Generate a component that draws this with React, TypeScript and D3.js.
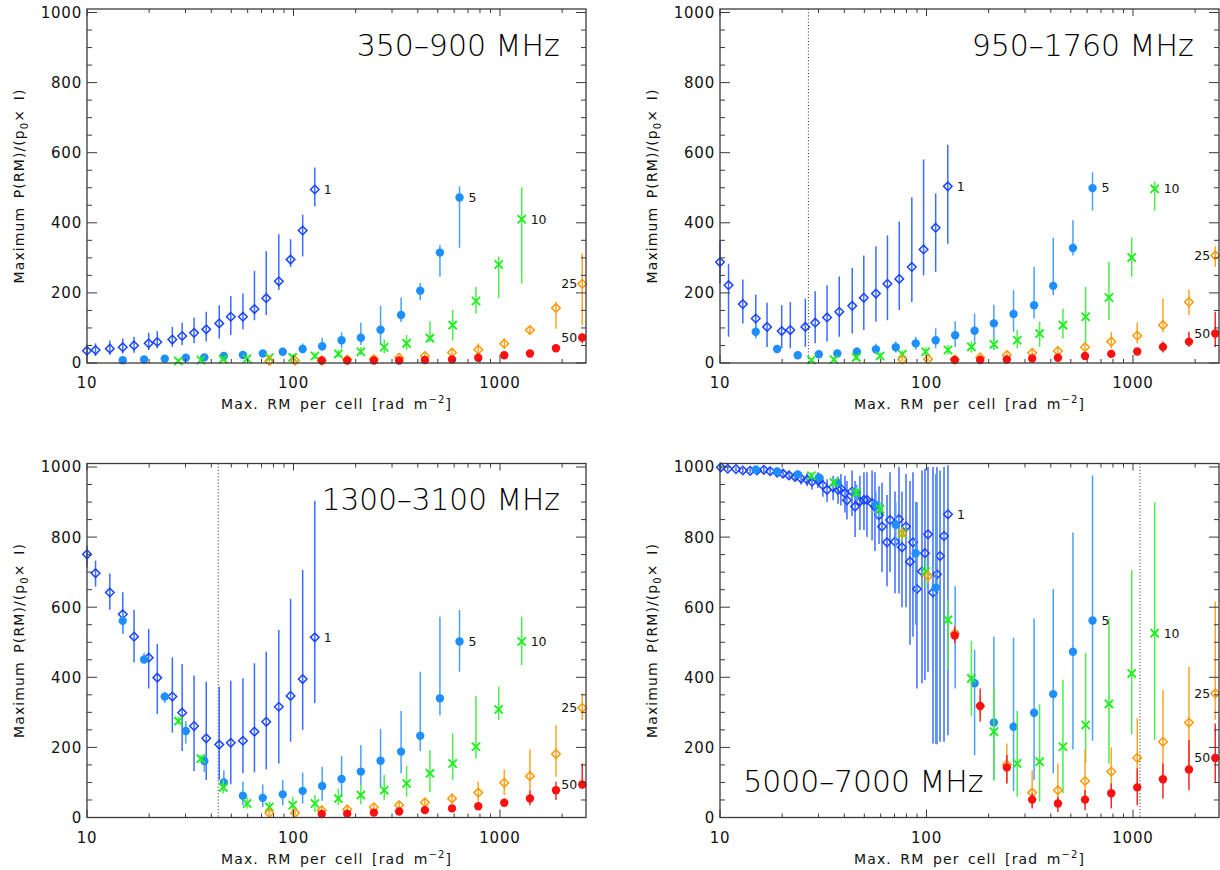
import React from 'react';
import * as d3 from 'd3';

// ---------- x grids (Max. RM per cell, rad m^-2) ----------
const X_S1 = [10, 11, 12.9, 14.9, 16.9, 19.9, 21.9, 25.9, 28.9, 33, 37.8, 43.7, 49.7, 56.9, 64.7, 73.8, 84.9, 96.8, 110.8, 126.8];
const X_S5 = [14.9, 18.9, 23.8, 30.1, 37, 46, 56.9, 71, 88.7, 110.8, 137.7, 171, 212, 264, 332, 411, 512, 637];
const X_S10 = [27.7, 35.6, 45.7, 59.6, 76.4, 99.1, 127, 165, 212, 275, 353, 458, 590, 765, 986, 1274];
const X_S25 = [76.4, 101.7, 137, 182, 245, 325, 433, 586, 785, 1049, 1397, 1867, 2503];
const X_S50 = [137, 182, 245, 325, 433, 586, 785, 1049, 1397, 1867, 2503];
const X_S1_P4 = [10.1, 10.9, 11.95, 12.9, 14.0, 15.1, 16.3, 17.5, 18.9, 20.2, 21.6, 23.1, 24.7, 26.4, 27.9, 29.8, 31.5, 33.0, 35.3, 37.3, 38.5, 40.3, 41.2, 43.6, 45.1, 47.6, 49.8, 51.5, 54.5, 56.3, 58.9, 60.9, 64.4, 66.6, 70.4, 73.6, 76.1, 79.6, 83.2, 86.0, 89.9, 95.1, 98.3, 101.7, 107.5, 112.4, 116.3, 121.6, 127.1];

// ---------- values [value, low, high] ----------
const P1_S1 = [[35,20,52],[37,20,56],[41,23,64],[45,27,70],[50,29,75],[56,37,86],[60,42,91],[67,46,103],[77,51,115],[86,56,130],[96,61,146],[113,70,165],[132,80,191],[132,96,198],[154,122,263],[185,137,319],[233,208,367],[295,274,353],[378,304,423],[495,447,558]];
const P1_S5 = [[8,5,12],[10,6,14],[12,8,16],[15,10,20],[16,10,23],[20,13,28],[23,15,32],[27,18,37],[32,22,44],[40,28,56],[48,35,72],[65,42,87],[72,51,115],[95,51,163],[137,117,187],[206,179,228],[315,246,337],[472,329,504]];
const P1_S10 = [[6,2,10],[8.5,4,13],[11,6,17],[12,6,18],[15,8,22],[16,9,24],[20,12,29],[26,16,37],[32,23,46],[45,27,68],[56,37,80],[71,59,119],[108,64,151],[177,141,217],[281,186,304],[410,227,501]];
const P1_S25 = [[6,3,9],[7,4,10],[7,4,11],[10,6,14],[11,7,16],[15,10,21],[20,13,28],[30,20,40],[38,27,56],[55,42,70],[94,82,107],[157,98,174],[226,108,312]];
const P1_S50 = [[7,4,10],[7,4,10],[7,4,10],[7,4,11],[8.5,5,12],[10,6,14],[15,10,20],[22,16,28],[27,20,34],[42,32,51],[73,56,84]];

const P2_S1 = [[288,226,349],[222,75,283],[168,113,238],[127,75,195],[103,46,172],[91,42,165],[94,42,174],[103,46,184],[115,56,205],[130,61,222],[146,75,247],[163,84,271],[186,94,307],[198,118,333],[226,122,364],[240,151,404],[274,174,473],[324,250,581],[386,260,484],[504,340,623]];
const P2_S5 = [[89,70,108],[40,30,50],[22,15,30],[25,15,35],[27,17,38],[32,20,45],[39,25,55],[45,30,62],[56,38,75],[65,42,99],[79,46,119],[92,56,141],[113,37,166],[140,89,208],[165,127,274],[220,193,357],[328,307,407],[499,435,544]];
const P2_S10 = [[8.5,3,14],[10,4,16],[16,8,24],[20,11,30],[25,14,36],[32,20,45],[37,24,52],[46,30,62],[53,37,75],[65,42,94],[84,46,118],[108,70,155],[132,56,217],[187,122,288],[301,246,357],[497,435,518]];
const P2_S25 = [[10,5,15],[11,6,16],[10,5,15],[16,10,22],[23,16,30],[29,20,38],[34,25,44],[45,35,56],[61,42,89],[78,56,116],[108,88,184],[174,137,210],[307,274,333]];
const P2_S50 = [[8.5,5,12],[8.5,5,12],[10,6,14],[13,9,17],[15,10,20],[20,14,26],[26,19,33],[33,25,42],[46,30,61],[61,46,89],[84,46,146]];

const P3_S1 = [[751,714,776],[697,659,733],[642,593,696],[580,524,643],[516,442,592],[456,368,538],[399,295,495],[345,242,457],[299,190,438],[261,133,405],[226,107,387],[208,107,373],[213,95,390],[219,126,397],[245,129,440],[273,137,473],[316,154,535],[347,216,624],[395,250,706],[514,327,904]];
const P3_S5 = [[561,524,587],[451,440,470],[345,327,359],[247,211,275],[161,130,178],[100,83,135],[62,35,102],[56,30,94],[66,35,107],[76,40,128],[90,48,145],[110,59,175],[131,92,207],[162,88,253],[188,126,304],[233,190,416],[340,292,573],[502,416,592]];
const P3_S10 = [[275,265,288],[168,158,178],[86,69,107],[40,26,59],[30,12,45],[35,11,59],[40,16,64],[54,35,83],[64,38,94],[78,50,121],[97,59,147],[126,73,192],[154,107,240],[202,168,347],[308,278,373],[502,435,573]];
const P3_S25 = [[13,5,20],[13,5,20],[21,12,30],[23,14,32],[29,19,40],[35,24,47],[43,30,56],[54,40,68],[71,45,102],[99,64,137],[118,78,194],[181,116,264],[313,278,354]];
const P3_S50 = [[10,5,15],[11,6,16],[14,8,20],[17,11,23],[21,15,28],[26,19,34],[32,24,41],[42,32,54],[54,35,78],[78,50,102],[94,83,154]];

const P4_S1 = [[999,993,1004],[995,989,1001],[994,988,1000],[990,983,997],[989,982,996],[990,982,998],[992,984,1000],[988,979,997],[984,974,994],[981,970,992],[976,963,989],[972,958,986],[967,950,985],[964,945,982],[958,935,980],[962,940,985],[948,915,975],[935,900,965],[942,905,975],[935,895,972],[938,890,980],[925,870,975],[905,850,960],[930,860,990],[887,800,960],[902,820,975],[906,820,985],[906,800,985],[897,790,990],[887,760,985],[863,780,945],[830,700,955],[785,660,920],[849,700,985],[787,640,930],[851,640,1000],[771,600,930],[830,600,980],[730,493,960],[785,516,985],[652,368,900],[702,383,990],[754,392,995],[808,416,1000],[642,211,1000],[694,209,1000],[746,216,990],[803,216,1000],[865,235,1005]];
const P4_S5 = [[992,985,999],[987,978,996],[979,968,990],[970,958,982],[955,940,968],[925,900,950],[892,850,930],[835,768,900],[754,550,900],[656,210,980],[524,368,660],[383,178,478],[271,107,516],[259,75,513],[299,107,568],[352,126,652],[473,194,813],[562,219,976]];
const P4_S10 = [[975,965,985],[956,945,967],[927,915,940],[880,860,900],[811,790,830],[702,654,740],[564,421,621],[397,289,504],[245,105,370],[154,59,304],[159,45,323],[202,69,392],[264,154,470],[324,154,570],[411,238,706],[526,221,899]];
const P4_S25 = [[811,795,825],[689,670,705],[525,505,545],[318,290,345],[151,97,211],[71,30,135],[78,45,154],[104,59,195],[131,60,200],[170,78,283],[216,97,364],[271,145,430],[354,278,616]];
const P4_S50 = [[519,497,545],[318,273,368],[143,97,178],[51,26,69],[40,16,59],[51,21,78],[69,26,97],[86,35,140],[109,54,154],[137,78,221],[170,102,268]];

const TITLES = ['350\u2013900 MHz', '950\u20131760 MHz', '1300\u20133100 MHz', '5000\u20137000 MHz'];
const DOTTED = [null, 26.8, 43.2, 1081];
const SERIES_LABELS = ['1', '5', '10', '25', '50'];
const Y_TICKS = d3.range(0, 1001, 50);
const X_MAJOR = [10, 100, 1000];

// ---------- layout ----------
const W = 499;
const H = 354;
const ORIGINS = [[87, 9], [720, 9], [87, 463.5], [720, 463.5]];
const TITLE_POS = [[356.7, 56, 203], [971.7, 56, 222], [321.7, 510, 238], [743.3, 791.5, 240]];

const STYLES = [
  { marker: 'diamond', color: '#1a44ff', bar: '#3c6cff' },
  { marker: 'circle', color: '#1e8fff', bar: '#4aa0ff' },
  { marker: 'cross', color: '#1fee1f', bar: '#4bee4b' },
  { marker: 'diamond', color: '#ff9900', bar: '#ffa42a' },
  { marker: 'circle', color: '#ff1010', bar: '#f02828' },
];

const PANELS = [
  { xs: [X_S1, X_S5, X_S10, X_S25, X_S50], ys: [P1_S1, P1_S5, P1_S10, P1_S25, P1_S50] },
  { xs: [X_S1, X_S5, X_S10, X_S25, X_S50], ys: [P2_S1, P2_S5, P2_S10, P2_S25, P2_S50] },
  { xs: [X_S1, X_S5, X_S10, X_S25, X_S50], ys: [P3_S1, P3_S5, P3_S10, P3_S25, P3_S50] },
  { xs: [X_S1_P4, X_S5, X_S10, X_S25, X_S50], ys: [P4_S1, P4_S5, P4_S10, P4_S25, P4_S50] },
];

const xScale = d3.scaleLog().domain([10, 2610]).range([0, W]);
const yScale = d3.scaleLinear().domain([0, 1010]).range([H, 0]);

const xMinor: number[] = [];
[10, 100, 1000].forEach((d) => {
  for (let k = 2; k <= 9; k++) if (k * d <= 2610) xMinor.push(k * d);
});

const FONT = 'DejaVu Sans, Verdana, sans-serif';

function Marker({ type, color, x, y }: { type: string; color: string; x: number; y: number }) {
  if (type === 'diamond') {
    const r = 4.3;
    return <path d={`M${x},${y - r}L${x + r},${y}L${x},${y + r}L${x - r},${y}Z`} fill="none" stroke={color} strokeWidth={1.5} />;
  }
  if (type === 'circle') {
    return <circle cx={x} cy={y} r={4.2} fill={color} />;
  }
  const r = 4.1;
  return (
    <path d={`M${x - r},${y - r}L${x + r},${y + r}M${x - r},${y + r}L${x + r},${y - r}`} stroke={color} strokeWidth={1.9} fill="none" />
  );
}

function Panel({ idx }: { idx: number }) {
  const [ox, oy] = ORIGINS[idx];
  const p = PANELS[idx];
  const frame = '#3a3a3a';
  const dotted = DOTTED[idx];
  return (
    <g transform={`translate(${ox},${oy})`}>
      {dotted !== null && (
        <line x1={xScale(dotted)} x2={xScale(dotted)} y1={0} y2={H} stroke="#222" strokeWidth={1} strokeDasharray="1,2.2" />
      )}
      {p.ys.map((data, si) => {
        const st = STYLES[si];
        const xs = p.xs[si];
        return (
          <g key={si}>
            {data.map((d, i) => (
              <line key={'b' + i} x1={xScale(xs[i])} x2={xScale(xs[i])} y1={yScale(d[1])} y2={yScale(d[2])} stroke={st.bar} strokeWidth={1.5} />
            ))}
            {data.map((d, i) => (
              <Marker key={'m' + i} type={st.marker} color={st.color} x={xScale(xs[i])} y={yScale(d[0])} />
            ))}
          </g>
        );
      })}
      {p.ys.map((data, si) => {
        const xs = p.xs[si];
        const last = data.length - 1;
        const px = xScale(xs[last]);
        const py = yScale(data[last][0]);
        const right = si < 3;
        return (
          <text key={'l' + si} x={right ? px + 9 : px - 5} y={py} dy="0.35em" textAnchor={right ? 'start' : 'end'} fontSize={12.5} fontFamily={FONT} fill="#111">
            {SERIES_LABELS[si]}
          </text>
        );
      })}
      {/* frame */}
      <rect x={0} y={0} width={W} height={H} fill="none" stroke={frame} strokeWidth={1.3} />
      {Y_TICKS.map((t) => {
        const len = t % 200 === 0 ? 10 : 5;
        const y = yScale(t);
        return (
          <g key={'yt' + t}>
            <line x1={0} x2={len} y1={y} y2={y} stroke={frame} strokeWidth={1} />
            <line x1={W} x2={W - len} y1={y} y2={y} stroke={frame} strokeWidth={1} />
          </g>
        );
      })}
      {Y_TICKS.filter((t) => t % 200 === 0).map((t) => (
        <text key={'yl' + t} x={-5} y={yScale(t)} dy="0.36em" textAnchor="end" fontSize={15} fontFamily={FONT} letterSpacing={0.8} fill="#111">
          {t}
        </text>
      ))}
      {X_MAJOR.map((t) => (
        <g key={'xM' + t}>
          <line x1={xScale(t)} x2={xScale(t)} y1={H} y2={H - 8} stroke={frame} strokeWidth={1} />
          <line x1={xScale(t)} x2={xScale(t)} y1={0} y2={7} stroke={frame} strokeWidth={1} />
          <text x={xScale(t)} y={H + 25} textAnchor="middle" fontSize={15} fontFamily={FONT} letterSpacing={0.8} fill="#111">
            {t}
          </text>
        </g>
      ))}
      {xMinor.map((t) => (
        <g key={'xm' + t}>
          <line x1={xScale(t)} x2={xScale(t)} y1={H} y2={H - 4} stroke={frame} strokeWidth={1} />
          <line x1={xScale(t)} x2={xScale(t)} y1={0} y2={4} stroke={frame} strokeWidth={1} />
        </g>
      ))}
      <text x={W / 2} y={H + 46} textAnchor="middle" fontSize={14} fontFamily={FONT} letterSpacing={1.1} wordSpacing={3} fill="#111">
        Max. RM per cell [rad m<tspan dy={-6} fontSize={10}>{'\u22122'}</tspan>
        <tspan dy={6}>]</tspan>
      </text>
      <text
        transform={`translate(${-63},${H / 2}) rotate(-90)`}
        textAnchor="middle"
        fontSize={14}
        fontFamily={FONT}
        letterSpacing={1.1}
        wordSpacing={3}
        fill="#111"
      >
        Maximum P(RM)/(p<tspan dy={4} fontSize={10}>0</tspan>
        <tspan dy={-4}>{'\u00d7 I)'}</tspan>
      </text>
    </g>
  );
}

export default function App() {
  return (
    <svg
      width={1220}
      height={870}
      viewBox="0 0 1220 870"
      style={{ position: 'absolute', left: 0, top: 0, display: 'block', background: '#fff' }}
    >
      <rect x={0} y={0} width={1220} height={870} fill="#fff" />
      {[0, 1, 2, 3].map((i) => (
        <Panel key={i} idx={i} />
      ))}
      {TITLES.map((t, i) => (
        <text
          key={'t' + i}
          x={TITLE_POS[i][0]}
          y={TITLE_POS[i][1]}
          textLength={TITLE_POS[i][2]}
          lengthAdjust="spacingAndGlyphs"
          fontSize={30}
          fontWeight={200}
          fontFamily={FONT}
          fill="#000"
        >
          {t}
        </text>
      ))}
    </svg>
  );
}
